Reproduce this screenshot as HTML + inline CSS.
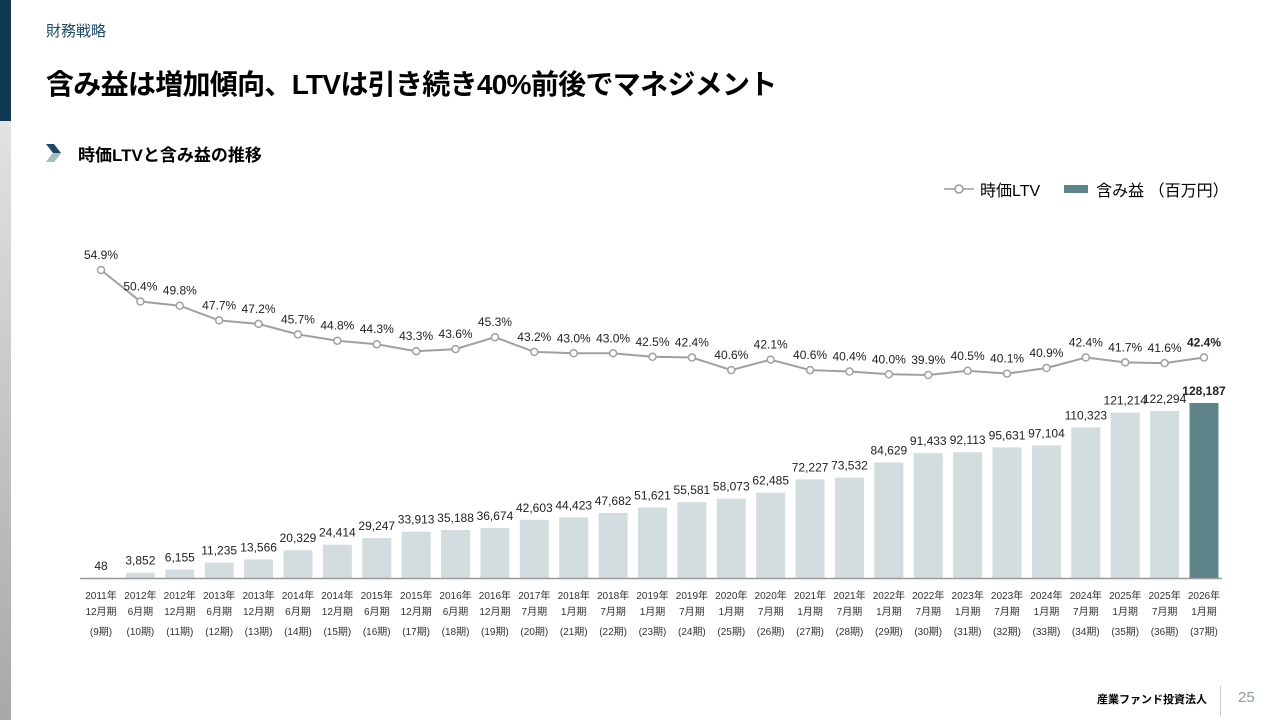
<!DOCTYPE html>
<html><head><meta charset="utf-8">
<style>
body{margin:0;width:1280px;height:720px;overflow:hidden;background:#fff;font-family:"Liberation Sans","Noto Sans CJK JP",sans-serif;position:relative}
.abs{position:absolute}
</style></head><body>
<div class="abs" style="left:0;top:0;width:11px;height:121px;background:#0d3a52"></div>
<div class="abs" style="left:0;top:121px;width:11px;height:599px;background:linear-gradient(#e2e2e2,#a8a8a8)"></div>
<div class="abs" style="left:46px;top:20px;font-size:15px;color:#1f4a66">財務戦略</div>
<div class="abs" style="left:46px;top:63px;font-size:28px;font-weight:bold;color:#000;letter-spacing:-0.7px">含み益は増加傾向、LTVは引き続き40%前後でマネジメント</div>
<svg class="abs" style="left:46px;top:144px" width="16" height="18"><polygon points="0,0 8,0 15,9 8,18 0,18 7,9" fill="#1f4a66"/><polygon points="0,9 15,9 8,18 0,18 7,9" fill="#a9bcc6"/></svg>
<div class="abs" style="left:78px;top:141px;font-size:17px;font-weight:bold">時価LTVと含み益の推移</div>
<div class="abs" style="left:944px;top:177px;font-size:16px;display:flex;align-items:center">
<svg width="30" height="12"><line x1="0" y1="6" x2="30" y2="6" stroke="#999" stroke-width="1.5"/><circle cx="15" cy="6" r="4" fill="#fff" stroke="#999" stroke-width="1.5"/></svg>
<span style="margin-left:6px">時価LTV</span>
<span style="display:inline-block;width:24px;height:8px;background:#5f8489;margin-left:24px"></span>
<span style="margin-left:8px">含み益 （百万円）</span></div>
<svg class="abs" id="chart" style="left:0;top:0" width="1280" height="720"></svg>
<div class="abs" style="left:1097px;top:691px;font-size:11px;font-weight:bold">産業ファンド投資法人</div>
<div class="abs" style="left:1220px;top:686px;width:1px;height:30px;background:#ccc"></div>
<div class="abs" style="left:1238px;top:689px;font-size:15px;color:#8a9aa4">25</div>
<script>
const years=["2011年","2012年","2012年","2013年","2013年","2014年","2014年","2015年","2015年","2016年","2016年","2017年","2018年","2018年","2019年","2019年","2020年","2020年","2021年","2021年","2022年","2022年","2023年","2023年","2024年","2024年","2025年","2025年","2026年"];
const months=["12月期","6月期","12月期","6月期","12月期","6月期","12月期","6月期","12月期","6月期","12月期","7月期","1月期","7月期","1月期","7月期","1月期","7月期","1月期","7月期","1月期","7月期","1月期","7月期","1月期","7月期","1月期","7月期","1月期"];
const periods=[9,10,11,12,13,14,15,16,17,18,19,20,21,22,23,24,25,26,27,28,29,30,31,32,33,34,35,36,37];
const gains=[48,3852,6155,11235,13566,20329,24414,29247,33913,35188,36674,42603,44423,47682,51621,55581,58073,62485,72227,73532,84629,91433,92113,95631,97104,110323,121214,122294,128187];
const ltv=[54.9,50.4,49.8,47.7,47.2,45.7,44.8,44.3,43.3,43.6,45.3,43.2,43.0,43.0,42.5,42.4,40.6,42.1,40.6,40.4,40.0,39.9,40.5,40.1,40.9,42.4,41.7,41.6,42.4];
const svg=document.getElementById('chart');const NS='http://www.w3.org/2000/svg';
const x=i=>101+i*(1204-101)/(gains.length-1);
const yb=v=>578-v*175/128187;
const yl=v=>270+(54.9-v)*7;
function mk(t,a){const e=document.createElementNS(NS,t);for(const k in a)e.setAttribute(k,a[k]);svg.appendChild(e);return e;}
const n=gains.length;
gains.forEach((g,i)=>{
const last=i===n-1;
const b=mk('rect',{x:x(i)-14.5,y:yb(g),width:29,height:578-yb(g),fill:last?'#5f8489':'#d3dcde'});


const t=mk('text',{x:x(i),y:yb(g)-8,'text-anchor':'middle','font-size':12,fill:'#222','font-weight':last?'bold':'normal'});


t.textContent=g.toLocaleString('en-US');
[[years[i],599],[months[i],615],['('+periods[i]+'期)',635]].forEach(([s,yy])=>{
const a=mk('text',{x:x(i),y:yy,'text-anchor':'middle','font-size':10,fill:'#333'});


a.textContent=s;});
});
const ax=mk('line',{x1:80,y1:578.5,x2:1222,y2:578.5,stroke:'#999','stroke-width':1.5});


const pl=mk('polyline',{points:ltv.map((v,i)=>x(i)+','+yl(v)).join(' '),fill:'none',stroke:'#a0a0a0','stroke-width':2});


ltv.forEach((v,i)=>{
const last=i===n-1;
const c=mk('circle',{cx:x(i),cy:yl(v),r:3.5,fill:'#fff',stroke:'#a0a0a0','stroke-width':1.5});


const t=mk('text',{x:x(i),y:yl(v)-11,'text-anchor':'middle','font-size':12,fill:'#222','font-weight':last?'bold':'normal'});


t.textContent=v.toFixed(1)+'%';
});
</script>
</body></html>
